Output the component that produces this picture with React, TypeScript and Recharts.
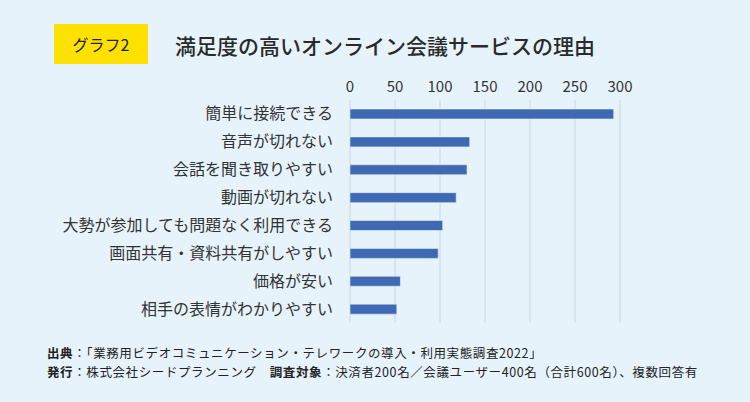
import React from "react";
import { BarChart, Bar, XAxis, YAxis, CartesianGrid } from "recharts";

const reasons = [
  "簡単に接続できる",
  "音声が切れない",
  "会話を聞き取りやすい",
  "動画が切れない",
  "大勢が参加しても問題なく利用できる",
  "画面共有・資料共有がしやすい",
  "価格が安い",
  "相手の表情がわかりやすい",
];
const counts = [293, 133, 130, 118, 103, 98, 56, 52];
const xTicks = [0, 50, 100, 150, 200, 250, 300];

const data = reasons.map((r, i) => ({ reason: r, count: counts[i] }));

const FONT = '"Noto Sans CJK JP", "Noto Sans", sans-serif';

const TopTick = (props: any) => {
  const { x, payload } = props;
  return (
    <text x={x} y={92} textAnchor="middle" fontSize={15} fill="#333" fontFamily={FONT}>
      {payload.value}
    </text>
  );
};

const LeftTick = (props: any) => {
  const { y, payload } = props;
  return (
    <text x={333} y={y} dy={5.5} textAnchor="end" fontSize={16} fill="#333" fontFamily={FONT}>
      {payload.value}
    </text>
  );
};

const App: React.FC = () => {
  return (
    <div style={{ position: "fixed", left: 0, top: 0, width: 750, height: 402, background: "#e6f3fb", fontFamily: FONT, overflow: "hidden" }}>
      <div style={{ position: "absolute", left: 54, top: 24, width: 94, height: 40, background: "#ffe100", display: "flex", alignItems: "center", justifyContent: "center", fontSize: 16, color: "#222" }}>
        グラフ2
      </div>
      <div style={{ position: "absolute", left: 175, top: 31, fontSize: 21, fontWeight: 500, color: "#2a2a2a", lineHeight: "28px" }}>
        満足度の高いオンライン会議サービスの理由
      </div>
      <div style={{ position: "absolute", left: 0, top: 0 }}>
        <BarChart
          width={750}
          height={402}
          data={data}
          layout="vertical"
          margin={{ top: 70, right: 130, bottom: 79, left: 0 }}
        >
          <CartesianGrid horizontal={false} vertical={true} stroke="#cfd4d8" />
          <XAxis
            type="number"
            orientation="top"
            domain={[0, 300]}
            ticks={xTicks}
            axisLine={false}
            tickLine={false}
            height={30}
            tick={<TopTick />}
          />
          <YAxis
            type="category"
            dataKey="reason"
            width={350}
            axisLine={false}
            tickLine={false}
            tick={<LeftTick />}
          />
          <Bar dataKey="count" fill="#3f69b3" stroke="#e8eef8" strokeWidth={0.6} barSize={10} isAnimationActive={false} />
        </BarChart>
      </div>
      <div style={{ position: "absolute", left: 47, top: 344, fontSize: 12.5, letterSpacing: 0.6, color: "#222", lineHeight: "18.5px", whiteSpace: "nowrap" }}>
        <div>
          <b>出典</b>：「業務用ビデオコミュニケーション・テレワークの導入・利用実態調査2022」
        </div>
        <div>
          <b>発行</b>：株式会社シードプランニング　<b>調査対象</b>：決済者200名／会議ユーザー400名（合計600名）、複数回答有
        </div>
      </div>
    </div>
  );
};

export default App;
